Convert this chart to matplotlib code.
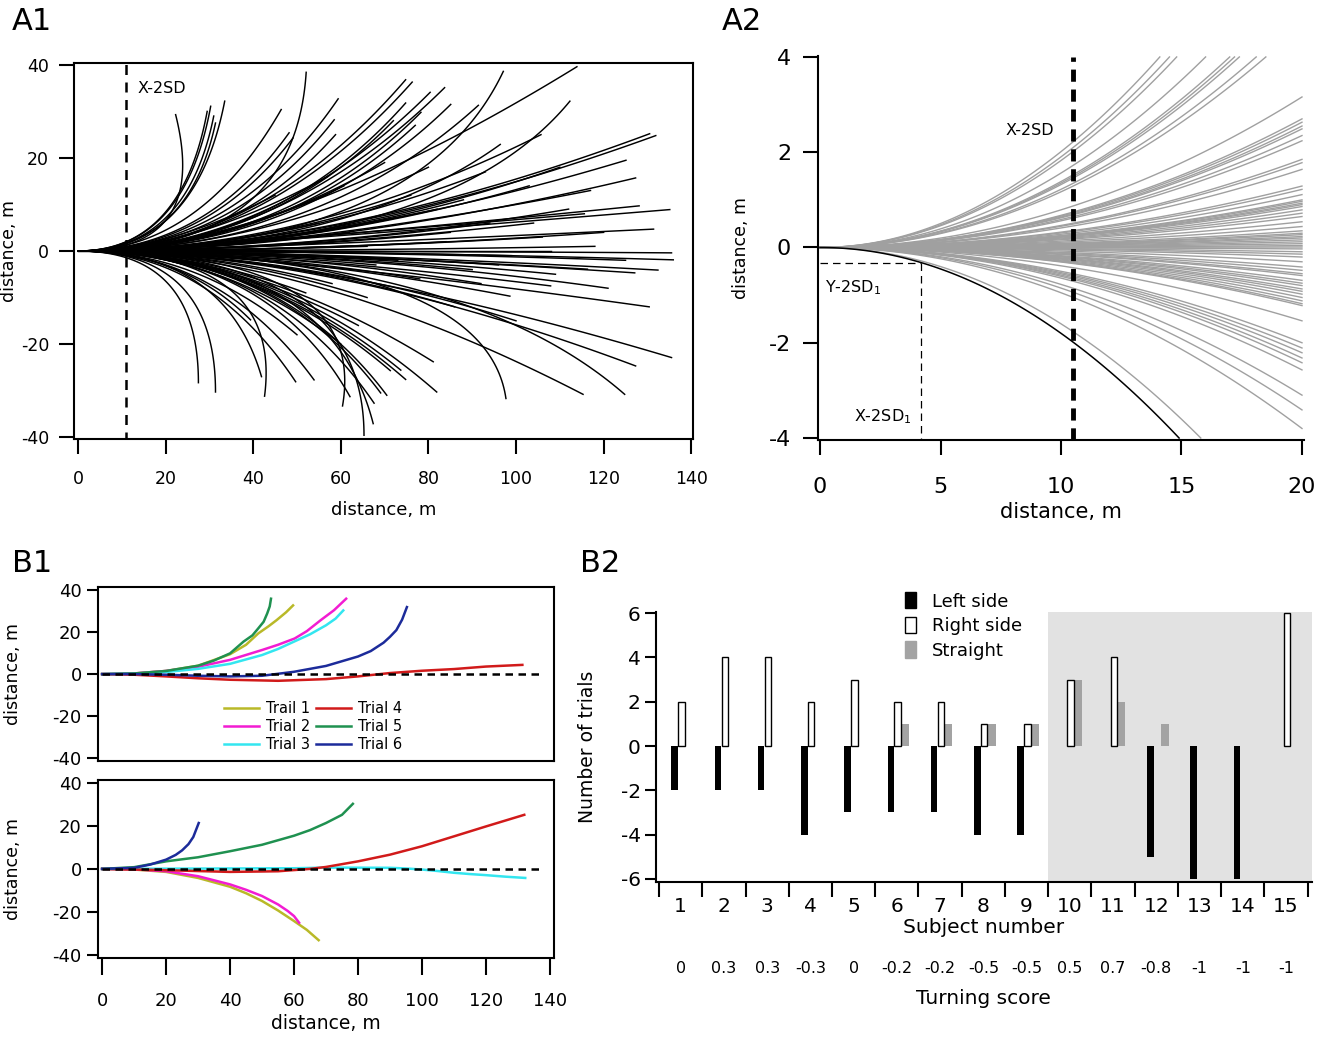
import numpy as np
import matplotlib
matplotlib.use("Agg")
import matplotlib.pyplot as plt
from matplotlib.patches import Patch

plt.rcParams['font.family'] = ['DejaVu Sans']
plt.rcParams['axes.unicode_minus'] = False

# ---- A1: end point of every walk (m) and how late it bends (0.5 = parabola)
a1_end_x = [22.3, 29.5, 30.3, 31.0, 31.4, 33.5, 46.4, 48.2, 49.1, 52.1,
            59.4, 58.5, 58.8, 60.7, 74.8, 76.3, 74.8, 80.4, 78.3, 83.7,
            85.1, 91.4, 97.1, 96.4, 105.7, 113.9, 112.3, 130.5, 131.9, 125.1,
            127.3, 115.6, 128.1, 135.1, 131.4, 77.0, 72.0,
            135.5, 135.9, 116.3, 132.4, 127.1, 107.9, 98.6, 130.4,
            27.5, 31.4, 39.4, 41.9, 42.6, 49.7, 53.9, 60.4, 62.1, 65.3,
            67.4, 67.6, 69.1, 70.5, 71.3, 73.7, 74.8, 81.1, 81.9, 97.7,
            115.3, 124.8, 127.3, 135.5,
            62, 68, 72, 78, 84, 88, 90, 94, 99, 103, 106, 109, 112, 118,
            121, 86, 76, 66, 55, 58, 80, 100, 93, 70, 64, 110, 120, 125,
            45, 52, 57, 66, 73, 82, 92, 104, 117, 50, 60, 85, 96, 108]
a1_end_y = [29.3, 30.0, 31.1, 29.0, 27.5, 32.2, 30.4, 25.4, 24.3, 38.4,
            32.7, 28.2, 25.0, 14.0, 36.8, 36.3, 31.8, 34.1, 29.8, 35.1,
            31.5, 31.3, 38.6, 22.9, 25.0, 39.6, 32.2, 25.2, 24.8, 19.5,
            15.7, 8.0, 9.7, 8.9, 4.7, 27.0, 28.0,
            -0.4, -1.9, -3.9, -4.1, -4.7, -7.5, -9.7, -12.0,
            -28.3, -30.3, -14.8, -27.0, -31.2, -28.1, -27.7, -33.3, -31.3, -39.6,
            -37.1, -32.7, -30.5, -31.0, -25.7, -25.6, -27.6, -23.8, -30.3, -31.7,
            -30.8, -30.8, -24.7, -22.9,
            4, -3, 7, -6, 2, 11, -4, 6, -1, 14, 3, -5, 9, 1,
            -8, -12, 12, -10, 6, -7, 18, -15, 17, 19, -16, 18, 4, -2,
            12, -9, 16, 1, -2, 9, -7, 6, 13, -18, -20, 4, -3, 0]
a1_bend = [1.35, 0.8, 0.8, 0.8, 0.8, 0.8, 0.6, 0.6, 0.6, 0.95,
           0.6, 0.6, 0.6, 0.5, 0.55, 0.55, 0.6, 0.55, 0.6, 0.55,
           0.6, 0.6, 0.8, 0.65, 0.5, 0.4, 0.75, 0.45, 0.45, 0.45,
           0.45, 0.15, 0.2, 0.15, 0.2, 0.6, 0.6,
           0.5, 0.5, 0.4, 0.4, 0.4, 0.4, 0.45, 0.3,
           1.0, 1.0, 0.6, 0.8, 1.1, 0.6, 0.6, 1.1, 0.7, 1.0,
           0.85, 0.65, 0.65, 0.65, 0.55, 0.55, 0.55, 0.5, 0.55, 0.95,
           0.45, 0.7, 0.45, 0.4,
           0.5, 0.5, 0.5, 0.5, 0.5, 0.5, 0.5, 0.5, 0.5, 0.5, 0.5, 0.5, 0.5, 0.5,
           0.5, 0.5, 0.5, 0.5, 0.5, 0.5, 0.5, 0.5, 0.5, 0.5, 0.5, 0.5, 0.5, 0.5,
           0.45, 0.5, 0.45, 0.5, 0.5, 0.45, 0.5, 0.45, 0.4, 0.55, 0.55, 0.5, 0.5, 0.5]
a1_x2sd = 11.0

# ---- A2: first 20 m, where each walk leaves the frame
a2_end_x = [14.1, 14.5, 14.8, 16.0, 17.0, 17.2, 17.4, 18.1, 18.5, 15.8] + [20.0] * 62
a2_end_y = [4, 4, 4, 4, 4, 4, 4, 4, 4, -4,
            3.16, 2.7, 2.63, 2.55, 2.49, 2.35, 2.24, 1.85, 1.78, 1.64,
            1.29, 1.22, 1.11, 1.0, 0.97, 0.93, 0.9, 0.86, 0.79, 0.72,
            0.65, 0.54, 0.44, 0.35, 0.30, 0.27, 0.23, 0.2, 0.16, 0.12,
            0.08, 0.04, 0.01, -0.03, -0.09, -0.14, -0.2, -0.3, -0.41, -0.48,
            -0.55, -0.59, -0.69, -0.75, -0.8, -0.87, -0.92, -0.98, -1.05, -1.12,
            -1.18, -1.22, -1.54, -2.0, -2.11, -2.21, -2.32, -2.42, -2.57, -3.1,
            -3.41, -3.8]
a2_black_end_x = 14.9
a2_black_end_y = -4.0
a2_x2sd = 10.5
a2_x2sd1 = 4.2
a2_y2sd1 = -0.33

# ---- B1: six trials of two subjects
trial_names = ['Trail 1', 'Trial 2', 'Trial 3', 'Trial 4', 'Trial 5', 'Trial 6']
trial_colors = ['#b9b928', '#f21cd2', '#33e6f0', '#d11a1a', '#1f9150', '#1c2b9a']

top_x = [
    [0, 10, 20, 30, 40, 45, 48.8, 52, 54.5, 57.5, 59.7],
    [0, 10, 20, 30, 40, 50, 55, 60.2, 64, 68.3, 72.5, 76.3],
    [0, 10, 20, 30, 40, 50, 55, 60, 65, 70, 73, 75.4],
    [0, 10, 20, 30, 40, 55, 70, 80, 90, 100, 110, 120, 131.4],
    [0, 10, 20, 30, 35, 40, 44.2, 47, 48.8, 50.5, 51.6, 52.4, 52.8],
    [0, 10, 20, 30, 40, 50, 60, 70, 80, 84, 88, 90, 92, 93.8, 95.3],
]
top_y = [
    [0, 0.3, 1.5, 4.0, 9.5, 14.0, 19.4, 22.8, 25.7, 29.5, 32.8],
    [0, 0.3, 1.5, 3.5, 6.8, 11.5, 14.0, 17.0, 20.5, 25.7, 30.5, 36.0],
    [0, 0.2, 1.0, 2.5, 4.9, 9.1, 12.0, 15.5, 19.0, 23.3, 26.5, 30.4],
    [0, -0.3, -1.1, -2.0, -2.7, -3.2, -2.4, -1.1, 0.5, 1.6, 2.4, 3.6, 4.4],
    [0, 0.3, 1.5, 4.0, 6.5, 9.9, 15.5, 18.5, 21.8, 25.0, 28.9, 32.3, 36.0],
    [0, 0, -0.3, -0.8, -1.1, -0.8, 1.1, 3.9, 8.4, 11.0, 15.0, 17.8, 21.0, 26.0, 32.0],
]
bot_x = [
    [0, 10, 20, 30, 40, 45, 50, 55, 60, 64, 67.7],
    [0, 10, 20, 30, 40, 45, 50, 55, 58, 60, 61.6],
    [0, 20, 40, 60, 70, 90, 95, 100, 105, 110, 115, 120, 126, 132.3],
    [0, 20, 40, 55, 65, 70, 80, 90, 100, 110, 120, 132],
    [0, 10, 20, 30, 40, 50, 60, 65, 70, 75, 78.4],
    [0, 10, 15, 20, 23, 25, 27, 28.5, 30.2],
]
bot_y = [
    [0, -0.3, -1.4, -4.2, -8.3, -11.3, -14.9, -19.3, -24.2, -28.3, -33.1],
    [0, -0.2, -1.1, -3.4, -7.2, -9.7, -12.6, -16.5, -19.5, -21.9, -25.0],
    [0, 0.1, 0.2, 0.3, 0.6, 0.5, 0.2, -0.3, -1.0, -1.8, -2.4, -2.9, -3.6, -4.2],
    [0, -0.6, -1.4, -1.1, 0, 0.9, 3.5, 6.6, 10.5, 15.1, 19.7, 25.1],
    [0, 0.8, 3.5, 5.4, 8.2, 11.2, 15.4, 18.0, 21.3, 25.1, 30.2],
    [0, 0.5, 2.0, 4.3, 6.5, 8.6, 11.5, 14.8, 21.3],
]

# ---- B2: trials per subject
subjects = list(range(1, 16))
left_side = [-2, -2, -2, -4, -3, -3, -3, -4, -4, 0, 0, -5, -6, -6, 0]
right_side = [2, 4, 4, 2, 3, 2, 2, 1, 1, 3, 4, 0, 0, 0, 6]
straight = [0, 0, 0, 0, 0, 1, 1, 1, 1, 3, 2, 1, 0, 0, 0]
turning_score = ['0', '0.3', '0.3', '-0.3', '0', '-0.2', '-0.2', '-0.5', '-0.5',
                 '0.5', '0.7', '-0.8', '-1', '-1', '-1']


def walk(xe, ye, bend, n=80):
    # quadratic bezier leaving the origin along x, ending at (xe, ye)
    t = np.linspace(0, 1, n)
    c = bend * xe
    return 2 * t * (1 - t) * c + t ** 2 * xe, t ** 2 * ye


W, H = 1329, 1037
fig = plt.figure(figsize=(W / 100, H / 100), dpi=100)


def box(l, r, t, b):
    return [l / W, 1 - b / H, (r - l) / W, (b - t) / H]


# ---------------- A1
ax = fig.add_axes(box(74, 693, 63, 439))
for xe, ye, bd in zip(a1_end_x, a1_end_y, a1_bend):
    x, y = walk(xe, ye, bd)
    ax.plot(x, y, color='black', lw=1.05)
ax.plot([a1_x2sd, a1_x2sd], [-41, 41], color='black', lw=1.8, dashes=(4, 3))
ax.text(13.5, 35, 'X-2SD', fontsize=11.5, va='center', ha='left')
ax.set_xlim(-0.9, 140.4)
ax.set_ylim(-40.4, 40.4)
ax.set_xticks(range(0, 141, 20))
ax.set_yticks([-40, -20, 0, 20, 40])
ax.tick_params(direction='out', length=11, width=1.5, labelsize=12.5, pad=7)
ax.tick_params(axis='x', pad=11)
for s in ax.spines.values():
    s.set_linewidth(1.5)
ax.set_xlabel('distance, m', fontsize=13, labelpad=10)
ax.set_ylabel('distance, m', fontsize=12.5)
ax.yaxis.set_label_coords(-0.09, 0.5)

# ---------------- A2
ax = fig.add_axes(box(817.6, 1304.4, 56, 440.4))
for xe, ye in zip(a2_end_x, a2_end_y):
    x, y = walk(xe, ye, 0.5)
    ax.plot(x, y, color='#a0a0a0', lw=1.0)
x, y = walk(a2_black_end_x, a2_black_end_y, 0.5)
ax.plot(x, y, color='black', lw=1.1)
ax.plot([a2_x2sd, a2_x2sd], [-4.05, 4.0], color='black', lw=3.5, dashes=(2.5, 1.6))
ax.plot([0, a2_x2sd1], [a2_y2sd1, a2_y2sd1], color='black', lw=0.9, dashes=(6, 4))
ax.plot([a2_x2sd1, a2_x2sd1], [a2_y2sd1, -4.05], color='black', lw=0.9, dashes=(6, 4))
ax.text(9.7, 2.45, 'X-2SD', fontsize=11.5, ha='right', va='center')
ax.text(0.2, -0.85, 'Y-2SD$_1$', fontsize=11.5, ha='left', va='center')
ax.text(3.8, -3.55, 'X-2SD$_1$', fontsize=11.5, ha='right', va='center')
ax.set_xlim(-0.1, 20.1)
ax.set_ylim(-4.05, 4.02)
ax.set_xticks([0, 5, 10, 15, 20])
ax.set_yticks([-4, -2, 0, 2, 4])
ax.spines['top'].set_visible(False)
ax.spines['right'].set_visible(False)
for s in ax.spines.values():
    s.set_linewidth(1.5)
ax.tick_params(direction='out', length=11, width=1.5, labelsize=16, pad=8)
ax.tick_params(axis='x', pad=15)
ax.set_xlabel('distance, m', fontsize=15, labelpad=4)
ax.set_ylabel('distance, m', fontsize=12.5, labelpad=14)

# ---------------- B1
ax_top = fig.add_axes(box(98.3, 553.7, 587.4, 761))
ax_bot = fig.add_axes(box(98.3, 553.7, 779.7, 958.3))
for a, xs, ys in [(ax_top, top_x, top_y), (ax_bot, bot_x, bot_y)]:
    for name, col, x, y in zip(trial_names, trial_colors, xs, ys):
        a.plot(x, y, color=col, lw=1.8, label=name)
    a.plot([0, 138.3], [0, 0], color='black', lw=1.8, dashes=(3, 2.2), zorder=5)
    a.set_xlim(-1.2, 141.2)
    a.set_ylim(-41.5, 41.4)
    a.set_yticks([-40, -20, 0, 20, 40])
    a.set_xticks(range(0, 141, 20))
    for s in a.spines.values():
        s.set_linewidth(1.5)
    a.tick_params(direction='out', length=8, width=1.5, labelsize=13, pad=4)
    a.set_ylabel('distance, m', fontsize=12.5)
    a.yaxis.set_label_coords(-0.168, 0.5)
ax_top.tick_params(axis='x', bottom=False, labelbottom=False)
ax_bot.tick_params(axis='x', length=12, pad=12)
ax_bot.set_xlabel('distance, m', fontsize=13.5, labelpad=3)
ax_top.legend(ncol=2, loc='center', bbox_to_anchor=(66, -25), bbox_transform=ax_top.transData,
              frameon=False, fontsize=10.5, handlelength=2.4, handletextpad=0.5,
              columnspacing=0.4, labelspacing=0.2)

# ---------------- B2
ax = fig.add_axes(box(656, 1312, 612, 882))
ax.axvspan(9.5, 15.6, color='#e2e2e2', lw=0, zorder=0)
sx = np.array(subjects)
for s, lv, rv, sv in zip(subjects, left_side, right_side, straight):
    if lv:
        ax.bar(s - 0.14, lv, width=0.15, color='black', zorder=2)
    if rv:
        ax.bar(s + 0.02, rv, width=0.15, color='white', edgecolor='black', lw=1, zorder=3)
    if sv:
        ax.bar(s + 0.2, sv, width=0.17, color='#a3a3a3', zorder=2)
ax.set_xlim(0.43, 15.6)
ax.set_ylim(-6.14, 6.05)
ax.set_yticks([-6, -4, -2, 0, 2, 4, 6])
ax.set_xticks(np.arange(0.5, 16, 1))
ax.set_xticklabels([])
ax.set_xticks(sx, minor=True)
ax.set_xticklabels([str(s) for s in subjects], minor=True)
ax.tick_params(axis='x', which='major', direction='out', length=11, width=1.5)
ax.tick_params(axis='x', which='minor', length=0, labelsize=14.5, pad=11)
ax.tick_params(axis='y', direction='out', length=8, width=1.5, labelsize=14.5, pad=3)
ax.spines['top'].set_visible(False)
ax.spines['right'].set_visible(False)
for s in ax.spines.values():
    s.set_linewidth(1.5)
ax.set_xlabel('Subject number', fontsize=14.5, labelpad=1)
ax.set_ylabel('Number of trials', fontsize=13.5)
ax.yaxis.set_label_coords(-0.09, 0.5)
for s, sc in zip(subjects, turning_score):
    ax.text(s, -0.32, sc, fontsize=11.5, ha='center', va='center',
            transform=ax.get_xaxis_transform())
ax.text(8.0, -0.43, 'Turning score', fontsize=14.5, ha='center', va='center',
        transform=ax.get_xaxis_transform())
handles = [Patch(facecolor='black', edgecolor='black'),
           Patch(facecolor='white', edgecolor='black'),
           Patch(facecolor='#a3a3a3', edgecolor='#a3a3a3')]
fig.legend(handles, ['Left side', 'Right side', 'Straight'], loc='upper left',
           bbox_to_anchor=(889 / W, 1 - 576 / H), frameon=False, fontsize=13,
           handlelength=0.6, handleheight=1.0, handletextpad=0.9, labelspacing=0.35)

# panel letters
for lab, px, py in [('A1', 12, 22), ('A2', 722, 22), ('B1', 12, 563), ('B2', 580, 563)]:
    fig.text(px / W, 1 - py / H, lab, fontsize=22, ha='left', va='center')

fig.savefig('out.png', dpi=100)
